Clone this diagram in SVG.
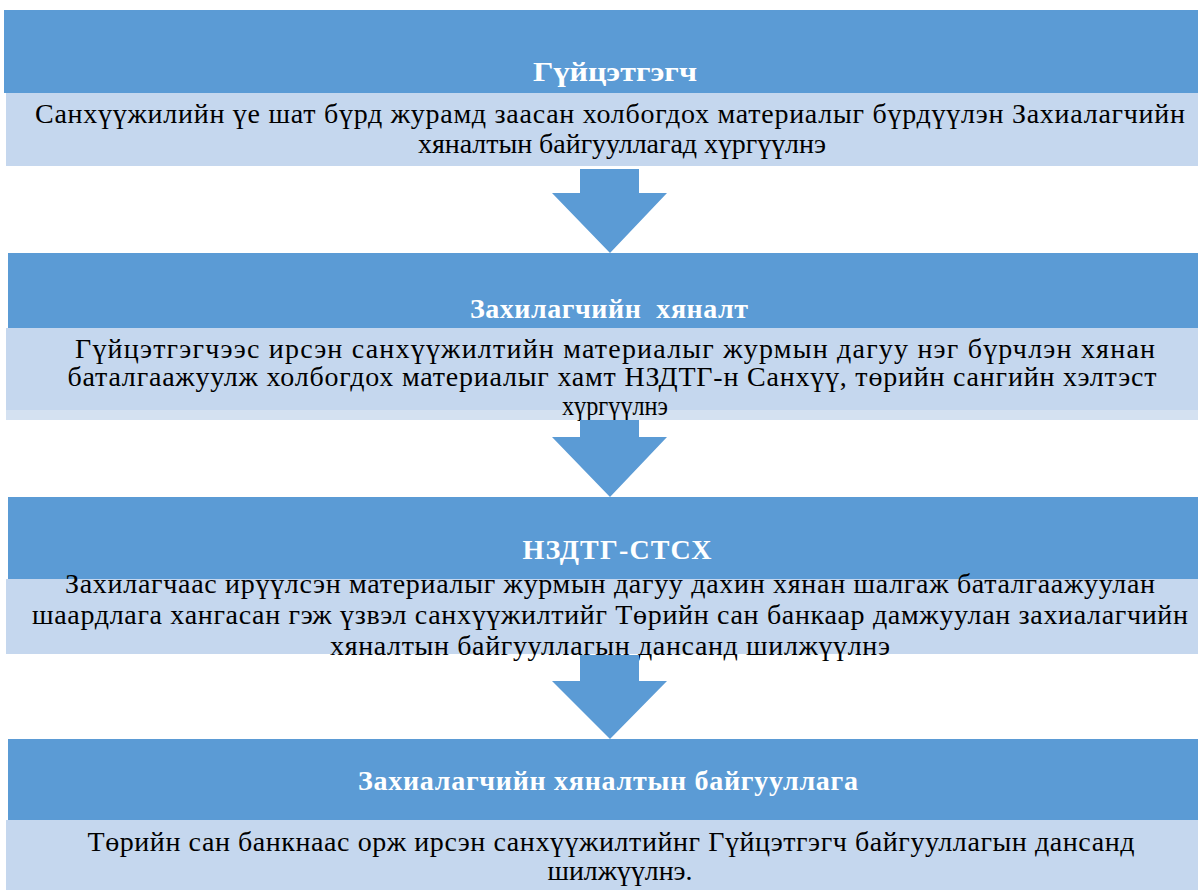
<svg xmlns="http://www.w3.org/2000/svg" width="1198" height="890" viewBox="0 0 1198 890">
<style>
.hd{fill:#5B9BD5}
.bd{fill:#C5D7EE}
.strip{fill:#D4E1F1}
.ttl{font-family:"Liberation Serif","DejaVu Serif","Times New Roman",serif;font-weight:bold;font-size:28px;fill:#ffffff;text-anchor:middle}
.txt{font-family:"Liberation Serif","DejaVu Serif","Times New Roman",serif;font-size:28px;fill:#000000;text-anchor:middle}
.arr{fill:#5B9BD5}
</style>
<rect width="1198" height="890" fill="#ffffff"/>
<g id="node1">
<rect class="hd" x="4" y="10" width="1194" height="83"/>
<rect class="bd" x="6" y="93" width="1192" height="73"/>
<text class="ttl" x="615" y="81" textLength="164" lengthAdjust="spacingAndGlyphs">Гүйцэтгэгч</text>
<text class="txt" x="610" y="123" textLength="1150">Санхүүжилийн үе шат бүрд журамд заасан холбогдох материалыг бүрдүүлэн Захиалагчийн</text>
<text class="txt" x="622" y="153" textLength="408">хяналтын байгууллагад хүргүүлнэ</text>
</g>
<g id="node2">
<rect class="hd" x="8" y="253" width="1190" height="75"/>
<rect class="bd" x="6" y="328" width="1192" height="82"/>
<rect class="strip" x="6" y="410" width="1192" height="10"/>
<text class="ttl" x="609" y="318" xml:space="preserve" textLength="278">Захилагчийн  хяналт</text>
<text class="txt" x="615" y="358" textLength="1080">Гүйцэтгэгчээс ирсэн санхүүжилтийн материалыг журмын дагуу нэг бүрчлэн хянан</text>
<text class="txt" x="612" y="386" textLength="1089">баталгаажуулж холбогдох материалыг хамт НЗДТГ-н Санхүү, төрийн сангийн хэлтэст</text>
<text class="txt" x="615" y="415" textLength="106" lengthAdjust="spacingAndGlyphs">хүргүүлнэ</text>
</g>
<g id="node3">
<rect class="hd" x="8" y="497" width="1190" height="82"/>
<rect class="bd" x="6" y="579" width="1192" height="75"/>
<text class="ttl" x="617" y="559" textLength="189">НЗДТГ-СТСХ</text>
<text class="txt" x="610" y="593" textLength="1090">Захилагчаас ирүүлсэн материалыг журмын дагуу дахин хянан шалгаж баталгаажуулан</text>
<text class="txt" x="610" y="624" textLength="1156">шаардлага хангасан гэж үзвэл санхүүжилтийг Төрийн сан банкаар дамжуулан захиалагчийн</text>
<text class="txt" x="610" y="655" textLength="560">хяналтын байгууллагын дансанд шилжүүлнэ</text>
</g>
<g id="node4">
<rect class="hd" x="8" y="739" width="1190" height="81"/>
<rect class="bd" x="6" y="820" width="1192" height="70"/>
<text class="ttl" x="608" y="790" textLength="500">Захиалагчийн хяналтын байгууллага</text>
<text class="txt" x="611" y="851" textLength="1047">Төрийн сан банкнаас орж ирсэн санхүүжилтийнг Гүйцэтгэгч байгууллагын дансанд</text>
<text class="txt" x="620" y="880" textLength="145" lengthAdjust="spacingAndGlyphs">шилжүүлнэ.</text>
</g>
<g id="connectors">
<polygon class="arr" points="580,169 639,169 639,193 667,193 610,253 552,193 580,193"/>
<polygon class="arr" points="580,420 639,420 639,437 667,437 610,497 552,437 580,437"/>
<polygon class="arr" points="580,655 639,655 639,681 667,681 610,739 552,681 580,681"/>
</g>
</svg>
